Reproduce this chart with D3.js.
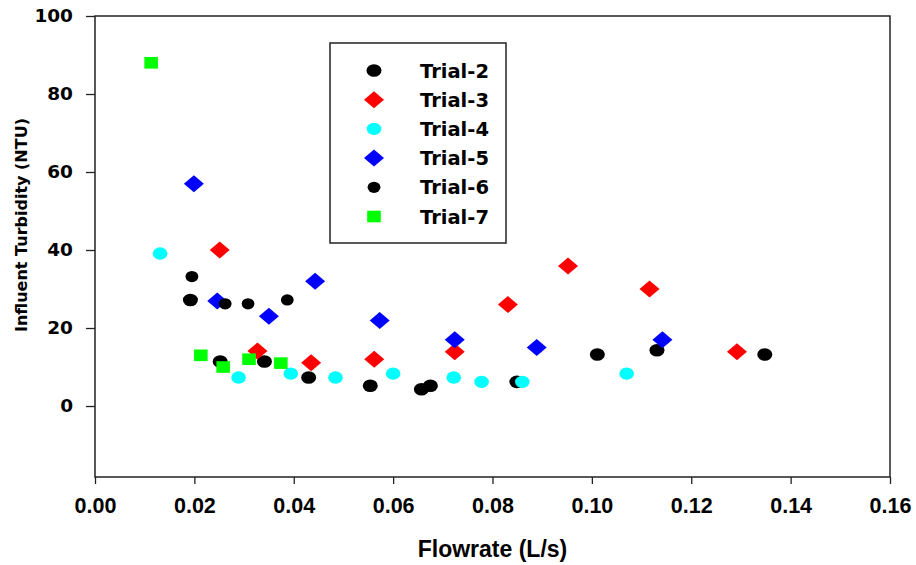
<!DOCTYPE html>
<html>
<head>
<meta charset="utf-8">
<script src="https://cdn.jsdelivr.net/npm/d3@7"></script>
<style>
  html, body { margin: 0; padding: 0; background: #fff; }
  svg { display: block; }
</style>
</head>
<body>
<svg id="chart" width="916" height="565"></svg>
<script>
// ---- Data ----
const xTicks = [0, 0.02, 0.04, 0.06, 0.08, 0.10, 0.12, 0.14, 0.16];
const yTicks = [0, 20, 40, 60, 80, 100];
const seriesNames = ["Trial-2", "Trial-3", "Trial-4", "Trial-5", "Trial-6", "Trial-7"];

const trial2X = [0.0192, 0.0252, 0.0341, 0.0430, 0.0554, 0.0657, 0.0675, 0.0849, 0.1011, 0.1131, 0.1348];
const trial2Y = [27.2, 11.4, 11.4, 7.3, 5.2, 4.3, 5.2, 6.2, 13.2, 14.3, 13.2];

const trial3X = [0.0251, 0.0327, 0.0435, 0.0562, 0.0724, 0.0831, 0.0952, 0.1116, 0.1292];
const trial3Y = [40.0, 14.1, 11.1, 12.0, 13.9, 26.0, 35.9, 30.0, 13.9];

const trial4X = [0.0131, 0.0289, 0.0394, 0.0484, 0.0600, 0.0722, 0.0778, 0.0860, 0.1070];
const trial4Y = [39.1, 7.3, 8.3, 7.3, 8.3, 7.3, 6.2, 6.2, 8.3];

const trial5X = [0.0199, 0.0246, 0.0350, 0.0443, 0.0573, 0.0724, 0.0889, 0.1142];
const trial5Y = [57.0, 26.9, 23.0, 32.0, 21.9, 17.0, 15.0, 17.0];

const trial6X = [0.0195, 0.0262, 0.0308, 0.0387];
const trial6Y = [33.2, 26.2, 26.2, 27.2];

const trial7X = [0.0113, 0.0213, 0.0258, 0.0310, 0.0374];
const trial7Y = [88.0, 13.0, 10.0, 12.0, 11.0];

// ---- Layout ----
(function () {
const svg = d3.select("#chart");
const mLeft = 95, mRight = 890, mTop = 16, mBottom = 477;

const x = d3.scaleLinear().domain([0, 0.16]).range([mLeft, mRight]);
const y = d3.scaleLinear().domain([-18.2, 100]).range([mBottom, mTop]);

const tickFontX = "'Liberation Sans', Arial, sans-serif";
const boldFont = "'DejaVu Sans', Verdana, sans-serif";

// frame
svg.append("rect")
  .attr("x", mLeft).attr("y", mTop)
  .attr("width", mRight - mLeft).attr("height", mBottom - mTop)
  .attr("fill", "none").attr("stroke", "#222").attr("stroke-width", 1.5);

// x axis
const xAxis = d3.axisBottom(x).tickValues(xTicks).tickSize(7).tickPadding(14)
  .tickFormat(d3.format(".2f"));
const gx = svg.append("g").attr("transform", `translate(0,${mBottom})`).call(xAxis);
gx.select(".domain").remove();
gx.selectAll(".tick line").attr("stroke", "#222").attr("stroke-width", 1.3);
gx.selectAll(".tick text")
  .attr("font-family", tickFontX).attr("font-weight", "bold")
  .attr("font-size", 21.5).attr("fill", "#000");

// y axis
const yAxis = d3.axisLeft(y).tickValues(yTicks).tickSize(9).tickPadding(13)
  .tickFormat(d3.format("d"));
const gy = svg.append("g").attr("transform", `translate(${mLeft},0)`).call(yAxis);
gy.select(".domain").remove();
gy.selectAll(".tick line").attr("stroke", "#222").attr("stroke-width", 1.3);
gy.selectAll(".tick text")
  .attr("font-family", boldFont).attr("font-weight", "bold")
  .attr("font-size", 18.5).attr("fill", "#000");

// axis titles
svg.append("text")
  .attr("x", (mLeft + mRight) / 2).attr("y", 557)
  .attr("text-anchor", "middle")
  .attr("font-family", tickFontX).attr("font-weight", "bold")
  .attr("font-size", 23).attr("fill", "#000")
  .text("Flowrate (L/s)");

svg.append("text")
  .attr("transform", `translate(27,225) rotate(-90)`)
  .attr("text-anchor", "middle")
  .attr("font-family", boldFont).attr("font-weight", "bold")
  .attr("font-size", 16).attr("fill", "#000")
  .text("Influent Turbidity (NTU)");

// ---- marker drawers ----
function drawMarker(g, type, color, cx, cy) {
  if (type === "bigCircle") {
    g.append("ellipse").attr("cx", cx).attr("cy", cy).attr("rx", 7.5).attr("ry", 6.3).attr("fill", color);
  } else if (type === "smallCircle") {
    g.append("ellipse").attr("cx", cx).attr("cy", cy).attr("rx", 6.4).attr("ry", 5.6).attr("fill", color);
  } else if (type === "cyanCircle") {
    g.append("ellipse").attr("cx", cx).attr("cy", cy).attr("rx", 7.3).attr("ry", 6.2).attr("fill", color);
  } else if (type === "diamond") {
    const w = 10, h = 8.5;
    g.append("path")
      .attr("d", `M${cx},${cy - h}L${cx + w},${cy}L${cx},${cy + h}L${cx - w},${cy}Z`)
      .attr("fill", color);
  } else if (type === "square") {
    g.append("rect").attr("x", cx - 6.8).attr("y", cy - 5.8).attr("width", 13.6).attr("height", 11.6).attr("fill", color);
  }
}

const series = [
  { name: seriesNames[0], xs: trial2X, ys: trial2Y, type: "bigCircle", color: "#000000" },
  { name: seriesNames[1], xs: trial3X, ys: trial3Y, type: "diamond", color: "#ff0000" },
  { name: seriesNames[2], xs: trial4X, ys: trial4Y, type: "cyanCircle", color: "#00ffff" },
  { name: seriesNames[3], xs: trial5X, ys: trial5Y, type: "diamond", color: "#0000ff" },
  { name: seriesNames[4], xs: trial6X, ys: trial6Y, type: "smallCircle", color: "#000000" },
  { name: seriesNames[5], xs: trial7X, ys: trial7Y, type: "square", color: "#00ff00" }
];

const gPts = svg.append("g");
series.forEach(s => {
  const g = gPts.append("g").attr("class", "series");
  s.xs.forEach((xv, i) => drawMarker(g, s.type, s.color, x(xv), y(s.ys[i])));
});

// ---- legend ----
const lg = svg.append("g");
lg.append("rect").attr("x", 330).attr("y", 43).attr("width", 176).attr("height", 200)
  .attr("fill", "#fff").attr("stroke", "#222").attr("stroke-width", 1.5);
const rowY = d3.scaleLinear().domain([0, 5]).range([70.5, 216.5]);
series.forEach((s, i) => {
  drawMarker(lg, s.type, s.color, 374, rowY(i));
  lg.append("text").attr("x", 420).attr("y", rowY(i) + 7)
    .attr("font-family", boldFont).attr("font-weight", "bold")
    .attr("font-size", 19.5).attr("fill", "#000")
    .text(s.name);
});
})();
</script>
</body>
</html>
